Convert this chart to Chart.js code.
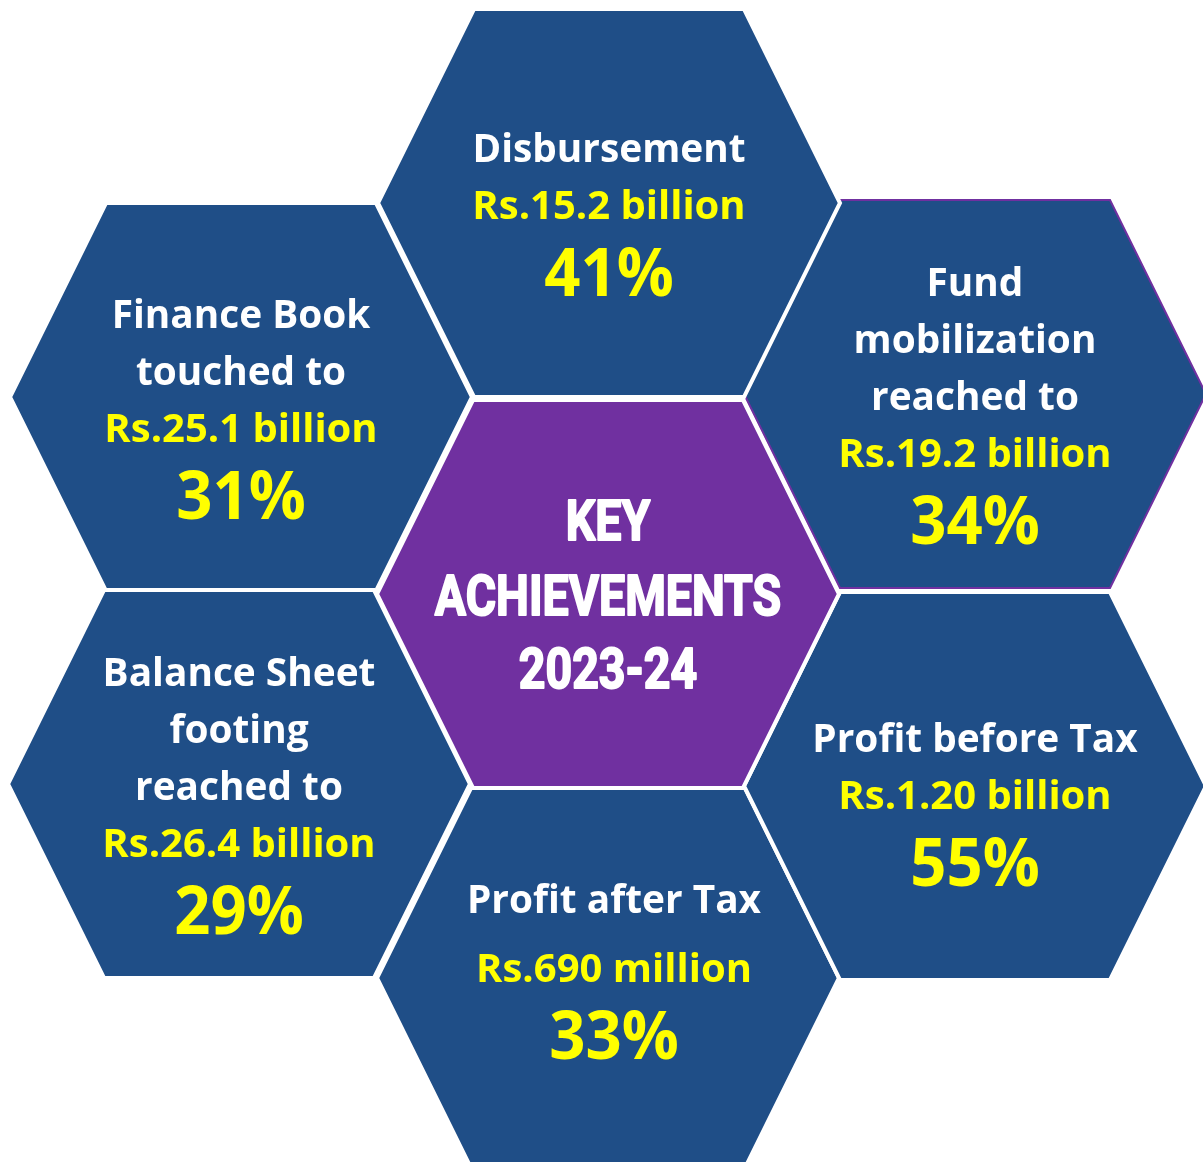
<!DOCTYPE html>
<html>
<head>
<meta charset="utf-8">
<script src="https://cdn.jsdelivr.net/npm/chart.js@4.4.1/dist/chart.umd.min.js"></script>
<style>
  html, body { margin: 0; padding: 0; background: #ffffff; }
  #wrap { width: 1203px; height: 1162px; }
</style>
</head>
<body>
<div id="wrap"><canvas id="keyChart" width="1203" height="1162"></canvas></div>
<script>
// data
var titleLines = ["KEY", "ACHIEVEMENTS", "2023-24"];
var labelLines = [
    ["Disbursement"],
    ["Fund", "mobilization", "reached to"],
    ["Profit before Tax"],
    ["Profit after Tax"],
    ["Balance Sheet", "footing", "reached to"],
    ["Finance Book", "touched to"]
];
var amounts = ["Rs.15.2 billion", "Rs.19.2 billion", "Rs.1.20 billion", "Rs.690 million", "Rs.26.4 billion", "Rs.25.1 billion"];
var growth = [41, 34, 55, 33, 29, 31];

// layout (centre of each hexagon, in canvas units)
var hexX = [609, 975, 975, 608, 239, 241];
var hexY = [203, 394, 786, 978, 784, 397];
var centreX = 608, centreY = 594;
var halfW = 231, halfTop = 135, halfH = 194;
var textDx = [0, 0, 0, 6, 0, 0];
var textDy = [0, 0, 7, -18, 0, 0];
var amountGap = [57, 57, 57, 69, 57, 57];

var blue = "#1f4e87";
var purple = "#7030a0";
var yellow = "#ffff00";

function hexPoints(cx, cy) {
    return [
        { x: cx - halfW, y: cy },
        { x: cx - halfTop, y: cy - halfH },
        { x: cx + halfTop, y: cy - halfH },
        { x: cx + halfW, y: cy },
        { x: cx + halfTop, y: cy + halfH },
        { x: cx - halfTop, y: cy + halfH },
        { x: cx - halfW, y: cy }
    ];
}

var datasets = [{
    label: titleLines.join(" "),
    data: hexPoints(centreX, centreY),
    backgroundColor: purple,
    borderColor: "#ffffff",
    borderWidth: 4,
    fill: "shape",
    order: 0
}];
labelLines.forEach(function (lines, i) {
    datasets.push({
        label: lines.join(" "),
        data: hexPoints(hexX[i], hexY[i]),
        backgroundColor: blue,
        borderColor: i === 1 ? purple : "#ffffff",
        borderWidth: i === 1 ? 2 : 4,
        fill: "shape",
        order: i === 1 ? 10 : 1
    });
});

function drawText(ctx, text, x, y, font, color, sx, stroke) {
    ctx.save();
    ctx.font = font;
    ctx.fillStyle = color;
    ctx.textAlign = "center";
    ctx.textBaseline = "alphabetic";
    ctx.translate(x, y);
    ctx.scale(sx, 1);
    ctx.fillText(text, 0, 0);
    if (stroke) {
        ctx.strokeStyle = color;
        ctx.lineWidth = stroke;
        ctx.lineJoin = "round";
        ctx.strokeText(text, 0, 0);
    }
    ctx.restore();
}

var textPlugin = {
    id: "hexText",
    afterDatasetsDraw: function (chart) {
        var ctx = chart.ctx;
        var xs = chart.scales.x, ys = chart.scales.y;
        var bodyFont = "bold 40px 'Open Sans'";
        var pctFont = "bold 66px 'Open Sans'";

        labelLines.forEach(function (lines, i) {
            var px = xs.getPixelForValue(hexX[i] + textDx[i]);
            var n = lines.length;
            var H = 28 + 57 * (n - 1) + amountGap[i] + 77;
            var y0 = ys.getPixelForValue(hexY[i]) + 40 - H / 2 + textDy[i];
            lines.forEach(function (t, j) {
                drawText(ctx, t, px, y0 + 57 * j, bodyFont, "#ffffff", 0.97);
            });
            var ya = y0 + 57 * (n - 1) + amountGap[i];
            drawText(ctx, amounts[i], px, ya, bodyFont, yellow, 1.0);
            drawText(ctx, growth[i] + "%", px, ya + 77, pctFont, yellow, 0.96);
        });

        var cx = xs.getPixelForValue(centreX);
        var cy = ys.getPixelForValue(centreY);
        var titleFont = "bold 56px Roboto";
        var offs = [-54, 21, 94];
        titleLines.forEach(function (t, j) {
            drawText(ctx, t, cx, cy + offs[j], titleFont, "#ffffff", 0.83, 2);
        });
    }
};

new Chart(document.getElementById("keyChart"), {
    type: "line",
    data: { datasets: datasets },
    options: {
        responsive: false,
        animation: false,
        layout: { padding: 0 },
        elements: {
            point: { radius: 0, hoverRadius: 0 },
            line: { tension: 0, borderJoinStyle: "miter" }
        },
        scales: {
            x: { type: "linear", min: 0, max: 1203, display: false },
            y: { type: "linear", min: 0, max: 1162, reverse: true, display: false }
        },
        plugins: {
            legend: { display: false },
            tooltip: { enabled: false }
        }
    },
    plugins: [textPlugin]
});
</script>
</body>
</html>
